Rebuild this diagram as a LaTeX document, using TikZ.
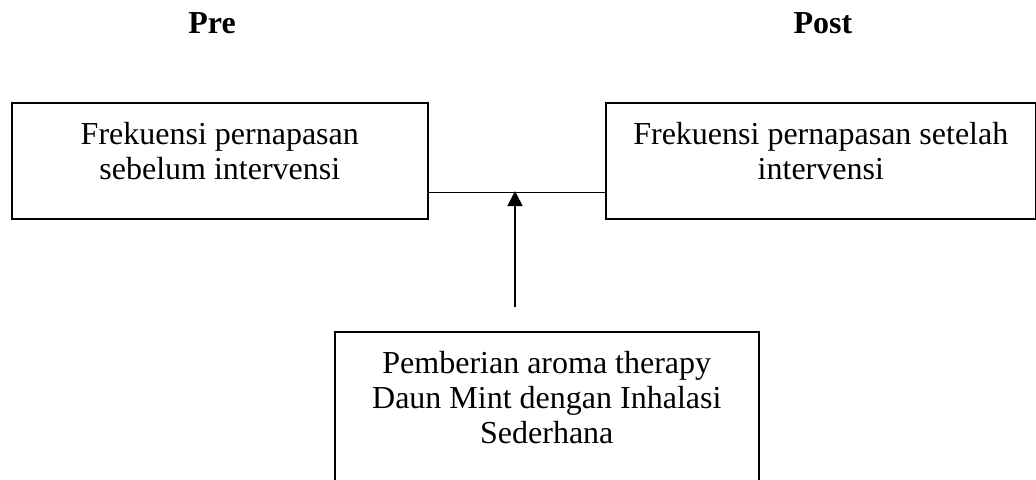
\documentclass[tikz,border=0pt]{standalone}
\usepackage{fontspec}
\setmainfont{Liberation Serif}
\usepackage{tikz}
\usetikzlibrary{arrows.meta,positioning}

\begin{document}
\begin{tikzpicture}[x=0.5pt,y=-0.5pt,
  kotak/.style={draw,line width=0.8pt,rectangle,align=center,inner sep=0pt,anchor=north west,font=\fontsize{16}{17.5}\selectfont},
  judul/.style={font=\fontsize{16}{17.5}\selectfont\bfseries,anchor=base}]
\useasboundingbox (0,0) rectangle (1036,479);
\clip (0,0) rectangle (1036,479);
\node[judul] (pre) at (212,33) {Pre};
\node[judul] (post) at (823,33) {Post};
\node[kotak,minimum width=208pt,minimum height=58pt,text depth=9.6pt] (sebelum) at (11,102) {Frekuensi pernapasan\\sebelum intervensi};
\node[kotak,minimum width=215pt,minimum height=58pt,text depth=9.6pt] (sesudah) at (605,102) {Frekuensi pernapasan setelah\\intervensi};
\node[kotak,minimum width=212pt,minimum height=100pt,text depth=34.1pt] (terapi) at (334,331) {Pemberian aroma therapy\\Daun Mint dengan Inhalasi\\Sederhana};
\coordinate (temu) at (515,191);
\coordinate (pangkal) at (515,307);
\draw[line width=0.8pt] ([yshift=13.5pt]sebelum.south east) -- ([yshift=13.5pt]sesudah.south west);
\draw[line width=0.8pt,-{Triangle[width=7.5pt,length=7.5pt]}] (pangkal) -- (temu);
\end{tikzpicture}
\end{document}
